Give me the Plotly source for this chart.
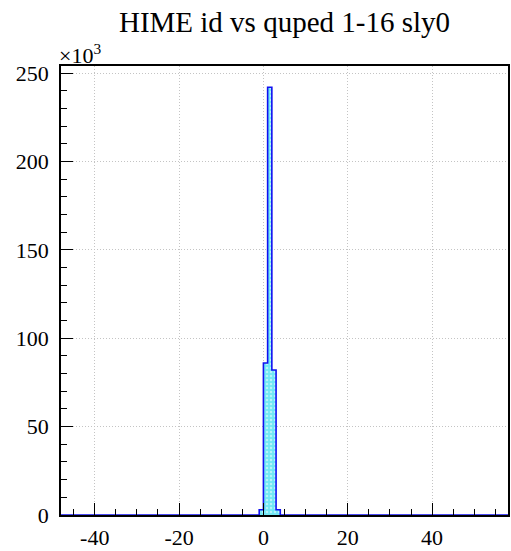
import plotly.graph_objects as go

# Histogram data (bin low edges, width 1) — counts
x_min = -48
x_max = 58
bin_low = [-1, 0, 1, 2, 3]
counts = [3000, 86000, 242000, 82000, 3000]

y_tickvals = [0, 50000, 100000, 150000, 200000, 250000]
y_ticktext = ["0", "50", "100", "150", "200", "250"]
x_tickvals = [-40, -20, 0, 20, 40]
x_ticktext = ["-40", "-20", "0", "20", "40"]

# full histogram over range
edges = list(range(x_min, x_max + 1))
full = [0] * (len(edges) - 1)
for lo, c in zip(bin_low, counts):
    full[lo - x_min] = c
xs = edges
ys = full + [full[-1]]

fig = go.Figure()
fig.add_trace(go.Scatter(
    x=xs, y=ys, mode="lines", line=dict(shape="hv", color="#1010f0", width=1.6),
    fill="tozeroy", fillcolor="#8ff0f8",
    fillpattern=dict(shape=".", fgcolor="#ffffff", bgcolor="#70e8f5", size=4, solidity=0.3),
    hoverinfo="skip", showlegend=False,
))

font = "Liberation Serif, Times New Roman, serif"
fig.update_layout(
    width=511, height=551,
    margin=dict(l=61, r=1, t=66, b=34),
    paper_bgcolor="white", plot_bgcolor="white",
    title=dict(text="HIME id vs quped 1-16 sly0", x=0.5, xref="paper", xanchor="center",
               y=1 - 22 / 551, yref="container", yanchor="middle",
               font=dict(family=font, size=29, color="black")),
    font=dict(family=font, size=22, color="black"),
    xaxis=dict(range=[x_min, x_max], tickvals=x_tickvals, ticktext=x_ticktext, ticks="inside", ticklen=12,
               tickcolor="black", showline=True, linecolor="black", linewidth=1.5, mirror=True,
               showgrid=True, gridcolor="#c4c4c4", griddash="1px,2px", gridwidth=1, zeroline=False,
               minor=dict(dtick=5, tick0=0, ticks="inside", ticklen=6, tickcolor="black", showgrid=False),
               tickfont=dict(family=font, size=22), ticklabelstandoff=2),
    yaxis=dict(range=[0, 254000], tickvals=y_tickvals, ticktext=y_ticktext, ticks="inside", ticklen=12,
               tickcolor="black", showline=True, linecolor="black", linewidth=1.5, mirror=True,
               showgrid=True, gridcolor="#c4c4c4", griddash="1px,2px", gridwidth=1, zeroline=False,
               minor=dict(dtick=10000, tick0=0, ticks="inside", ticklen=6, tickcolor="black", showgrid=False),
               tickfont=dict(family=font, size=22), ticklabelstandoff=6),
)
fig.add_annotation(text="×10<sup>3</sup>", xref="paper", yref="paper", x=0, y=1.0,
                   xanchor="left", yanchor="bottom", showarrow=False, yshift=-4, xshift=-4,
                   font=dict(family=font, size=22, color="black"))

fig.write_html("out.html", config={"displayModeBar": False},
               post_script="document.body.style.margin='0';")
